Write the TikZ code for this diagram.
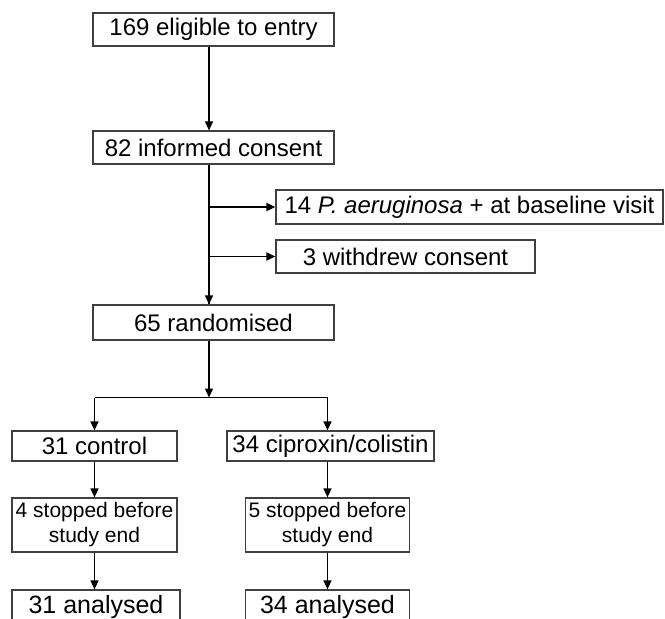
\documentclass[tikz,border=0pt]{standalone}
\usepackage{fontspec}
\setmainfont{Liberation Sans}
\usetikzlibrary{arrows.meta}
\tikzset{
  box/.style={draw=black!75, line width=1.2pt, inner sep=0pt, align=center,
    font=\fontsize{24}{26}\selectfont},
  twoline/.style={box, font=\fontsize{21}{25}\selectfont},
  arr/.style={-{Triangle[length=9pt,width=8pt]}, line width=1.3pt},
  sidearr/.style={arr, line width=1.8pt}
}
\begin{document}
\begin{tikzpicture}[x=1pt,y=-1pt]
    \useasboundingbox (0,0) rectangle (665,619);
    \coordinate (spine) at (209,0);
    \coordinate (split) at (209,397.5);
    \node[box, minimum width=241, minimum height=33] (elig) at (213.5,29.5) {169 eligible to entry};
    \node[box, minimum width=241, minimum height=33] (cons) at (213.5,147.5) {82 informed consent};
    \node[box, minimum width=387, minimum height=34] (pae) at (469.5,207) {14 \textit{P. aeruginosa} + at baseline visit};
    \node[box, minimum width=259, minimum height=33] (wdr) at (405.5,256.5) {3 withdrew consent};
    \node[box, minimum width=241, minimum height=35] (rand) at (213.5,322.5) {65 randomised};
    \node[box, minimum width=165, minimum height=30] (ctrl) at (94.5,446) {31 control};
    \node[box, minimum width=207, minimum height=30] (cipro) at (330.5,446) {34 ciproxin/colistin};
    \node[twoline, minimum width=165, minimum height=54] (stopc) at (94.5,525) {4 stopped before\\study end};
    \node[twoline, minimum width=164, minimum height=54] (stopx) at (327.5,525) {5 stopped before\\study end};
    \node[box, minimum width=168, minimum height=34, font=\fontsize{25}{28}\selectfont] (anac) at (96,607) {31 analysed};
    \node[box, minimum width=164, minimum height=34, font=\fontsize{25}{28}\selectfont] (anax) at (327.5,607) {34 analysed};
    \draw[arr] (elig.south -| spine) -- (cons.north -| spine);
    \draw[line width=1.3pt] (cons.south -| spine) -- (rand.north -| spine);
    \draw[sidearr] (pae.west -| spine) -- (pae.west);
    \draw[sidearr] (wdr.west -| spine) -- (wdr.west);
    \draw[arr] (wdr.west -| spine) -- (rand.north -| spine);
    \draw[arr] (rand.south -| spine) -- (split);
    \draw[line width=1.3pt] (split -| ctrl) -- (split -| stopx);
    \draw[arr] (split -| ctrl) -- (ctrl.north);
    \draw[arr] (split -| stopx) -- (cipro.north -| stopx);
    \draw[arr] (ctrl.south) -- (stopc.north);
    \draw[arr] (cipro.south -| stopx) -- (stopx.north);
    \draw[arr] (stopc.south) -- (stopc.south |- anac.north);
    \draw[arr] (stopx.south) -- (anax.north);
\end{tikzpicture}
\end{document}
